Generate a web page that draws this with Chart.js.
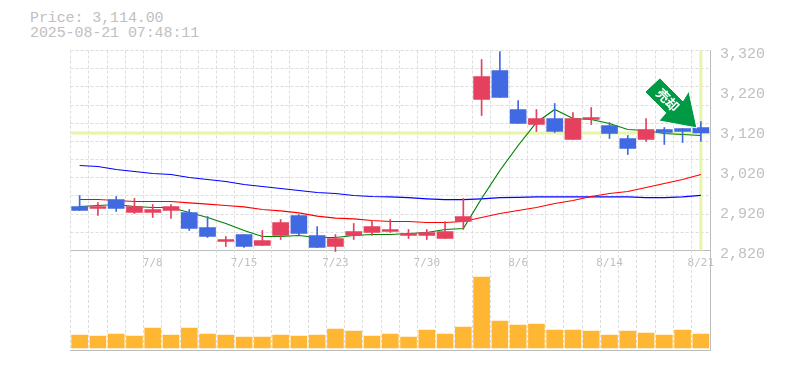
<!DOCTYPE html>
<html lang="ja">
<head>
    <meta charset="UTF-8">
    <title>Price chart</title>
    <script src="https://cdn.jsdelivr.net/npm/chart.js"></script>
    <style>
        body { margin: 0; background: #fff; }
        canvas { position: absolute; left: 0; }
        #priceChart { top: 0; }
        #volumeChart { top: 250px; }
        .head { position: absolute; left: 30px; color: #c0c0c0; font: 15px/15px "Liberation Mono", monospace; letter-spacing: -0.1px; white-space: pre; }
    </style>
</head>
<body>
    <div class="head" style="top:11px">Price: 3,114.00</div>
    <div class="head" style="top:26px">2025-08-21 07:48:11</div>
    <canvas id="priceChart" width="785" height="272"></canvas>
    <canvas id="volumeChart" width="785" height="120"></canvas>

    <script>
        const dates = ['7/2','7/3','7/4','7/7','7/8','7/9','7/10','7/11','7/14','7/15','7/16','7/17','7/18','7/22','7/23','7/24','7/25','7/28','7/29','7/30','7/31','8/1','8/4','8/5','8/6','8/7','8/8','8/12','8/13','8/14','8/15','8/18','8/19','8/20','8/21'];

        const opens  = [2930,2925,2947.5,2915,2915,2920,2915,2877.5,2842.5,2860,2832.5,2857.5,2907.5,2857.5,2830,2857.5,2865,2867.5,2857.5,2857.5,2850,2892.5,3197.5,3270,3172.5,3135,3150,3097.5,3147.5,3132.5,3100,3097.5,3122.5,3125,3127.5];
        const closes = [2920,2930,2925,2930,2922.5,2930,2875,2855,2847.5,2830,2845,2890,2862.5,2827.5,2850,2867.5,2880,2872.5,2862.5,2865,2867.5,2905,3255,3202.5,3137.5,3150,3117.5,3150,3152.5,3112.5,3075,3122.5,3115,3117.5,3114];
        const highs  = [2957.5,2940,2955,2950,2935,2935,2922.5,2905,2855,2860,2870,2897.5,2910,2880,2860,2887.5,2895,2897.5,2872.5,2872.5,2892.5,2950,3297.5,3317.5,3195,3172.5,3187.5,3165,3177.5,3140,3107.5,3150,3127.5,3125,3142.5];
        const lows   = [2920,2907.5,2917.5,2912.5,2902.5,2900,2870,2852.5,2830,2827.5,2832.5,2847.5,2857.5,2827.5,2817.5,2847.5,2857.5,2865,2850,2847.5,2850,2872.5,3157.5,3202.5,3137.5,3117.5,3115,3097.5,3135,3100,3060,3092.5,3085,3090,3092.5];

        const ma5  = [2930,2932.5,2935,2930,2927.5,2927.5,2915,2902.5,2887.5,2870,2855,2855,2857.5,2852.5,2852.5,2857.5,2860,2860,2862.5,2865,2872.5,2875,2950,3020,3082.5,3140,3172.5,3150,3147.5,3137.5,3122.5,3120,3112.5,3110,3107.5];
        const ma25 = [2947.5,2947.5,2945,2942.5,2942.5,2942.5,2939,2936,2932.5,2929,2922.5,2919,2914,2906,2901,2899,2895,2892.5,2892.5,2890,2890,2892.5,2902.5,2912.5,2920,2927.5,2937.5,2945,2955,2962.5,2967.5,2977.5,2987.5,2997.5,3010];
        const ma75 = [3032.5,3030,3022.5,3017.5,3012.5,3010,3002.5,2997.5,2992.5,2985,2980,2975,2970,2965,2962.5,2957.5,2955,2954,2952,2949,2947,2947,2949,2952,2953,2954,2954,2954,2954,2954,2954,2952,2952,2954,2958];

        const volumes = [65,60,70,60,100,65,100,70,65,55,55,65,60,65,95,85,60,70,55,90,70,105,355,135,115,120,90,90,85,65,85,75,65,90,70];

        const priceLabels = [2820,3320];
        const lastPrice = 3114;

        const GRID = '#dddddd';
        const AXIS = '#bdbdbd';
        const UP = '#e5405e';
        const DOWN = '#4169e1';
        const candleColors = closes.map((c, i) => (c >= opens[i] ? UP : DOWN));

        // yellow cross at the last price, under the candles
        const lastPriceCross = {
            id: 'lastPriceCross',
            beforeDatasetsDraw(chart) {
                const { ctx, chartArea, scales } = chart;
                const px = scales.x.getPixelForValue(dates.length - 1);
                const py = scales.y.getPixelForValue(lastPrice);
                ctx.save();
                ctx.strokeStyle = '#e6f5a9';
                ctx.lineWidth = 3;
                ctx.beginPath();
                ctx.moveTo(chartArea.left, py);
                ctx.lineTo(chartArea.right, py);
                ctx.moveTo(px, chartArea.top);
                ctx.lineTo(px, chartArea.bottom);
                ctx.stroke();
                ctx.restore();
            }
        };

        // sell signal arrow pointing at the last candle
        const signalArrow = {
            id: 'signalArrow',
            afterDatasetsDraw(chart) {
                const { ctx, scales } = chart;
                const tipX = scales.x.getPixelForValue(dates.length - 1) - 4;
                const tipY = scales.y.getPixelForValue(lastPrice) - 5;
                const outline = [[0,0],[-38,-7],[-31,-15],[-52,-36],[-37,-50],[-14,-27],[-8,-37]];
                ctx.save();
                ctx.translate(tipX, tipY);
                ctx.beginPath();
                outline.forEach(([dx, dy], i) => (i ? ctx.lineTo(dx, dy) : ctx.moveTo(dx, dy)));
                ctx.closePath();
                ctx.fillStyle = '#009944';
                ctx.strokeStyle = '#ffffff';
                ctx.lineWidth = 1;
                ctx.fill();
                ctx.stroke();
                ctx.translate(-29, -28);
                ctx.rotate(Math.PI / 4);
                ctx.fillStyle = '#ffffff';
                ctx.font = 'bold 13px "Noto Sans CJK JP"';
                ctx.textAlign = 'center';
                ctx.textBaseline = 'middle';
                ctx.fillText('売却', 0, 0);
                ctx.restore();
            }
        };

        const maLine = (data, color) => ({
            type: 'line', data, borderColor: color, borderWidth: 1.2, pointRadius: 0, tension: 0, order: 3
        });

        new Chart(document.getElementById('priceChart'), {
            type: 'bar',
            data: {
                labels: dates,
                datasets: [
                    { data: opens.map((o, i) => [o, closes[i]]), backgroundColor: candleColors, barThickness: 16, grouped: false, order: 1 },
                    { data: lows.map((l, i) => [l, highs[i]]), backgroundColor: candleColors, barThickness: 1, grouped: false, order: 2, clip: false },
                    maLine(ma5, '#008000'),
                    maLine(ma25, '#ff0000'),
                    maLine(ma75, '#0000ff')
                ]
            },
            options: {
                responsive: false,
                animation: false,
                layout: { padding: { left: 70.5, top: 50.5 } },
                plugins: { legend: { display: false }, tooltip: { enabled: false } },
                scales: {
                    x: {
                        grid: { color: GRID, drawTicks: false },
                        border: { color: AXIS, dash: [3, 2] },
                        afterFit(s) { s.height = 21.5; },
                        ticks: {
                            autoSkip: false, maxRotation: 0, padding: 6, color: '#c0c0c0',
                            font: { family: '"DejaVu Sans Mono"', size: 11 },
                            callback: (v, i) => (i % 5 === 4 ? dates[i] : '')
                        }
                    },
                    y: {
                        position: 'right', min: priceLabels[0], max: priceLabels[1],
                        grid: { display: false, drawTicks: false },
                        border: { color: AXIS },
                        afterFit(s) { s.width = 75; },
                        ticks: {
                            stepSize: 100, padding: 10, labelOffset: 4, color: '#c0c0c0',
                            font: { family: '"Liberation Mono"', size: 15 },
                            callback: (v) => v.toLocaleString('en-US')
                        }
                    },
                    yGrid: {
                        position: 'right', min: priceLabels[0], max: priceLabels[1],
                        grid: { color: GRID, drawTicks: false },
                        border: { display: false, dash: [3, 2] },
                        afterFit(s) { s.width = 0; },
                        ticks: { display: false, count: 12 }
                    }
                }
            },
            plugins: [lastPriceCross, signalArrow]
        });

        new Chart(document.getElementById('volumeChart'), {
            type: 'bar',
            data: {
                labels: dates,
                datasets: [{ data: volumes, backgroundColor: '#ffb733', barThickness: 16 }]
            },
            options: {
                responsive: false,
                animation: false,
                layout: { padding: { left: 70.5, bottom: 20 } },
                plugins: { legend: { display: false }, tooltip: { enabled: false } },
                scales: {
                    x: {
                        grid: { color: GRID, drawTicks: false },
                        border: { color: AXIS, dash: [3, 2] },
                        ticks: { display: false },
                        afterFit(s) { s.height = 0; }
                    },
                    y: {
                        position: 'right', min: -10, max: 490,
                        grid: { display: false, drawTicks: false },
                        border: { color: AXIS },
                        ticks: { display: false },
                        afterFit(s) { s.width = 75; }
                    }
                }
            }
        });
    </script>
</body>
</html>
